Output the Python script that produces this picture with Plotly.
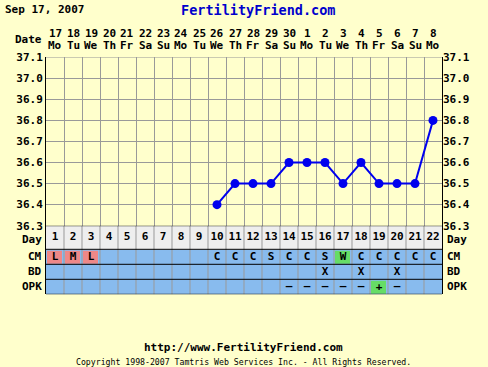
import plotly.graph_objects as go

# ---------------- data ----------------
cycle_days = list(range(1, 23))
date_labels = ["17", "18", "19", "20", "21", "22", "23", "24", "25", "26", "27",
               "28", "29", "30", "1", "2", "3", "4", "5", "6", "7", "8"]
weekday_labels = ["Mo", "Tu", "We", "Th", "Fr", "Sa", "Su"] * 3 + ["Mo"]
temp_days = [10, 11, 12, 13, 14, 15, 16, 17, 18, 19, 20, 21, 22]
temps = [36.4, 36.5, 36.5, 36.5, 36.6, 36.6, 36.6, 36.5, 36.6, 36.5, 36.5, 36.5, 36.8]
temp_ticks = [36.3, 36.4, 36.5, 36.6, 36.7, 36.8, 36.9, 37.0, 37.1]
cm_row = ["L", "M", "L", "", "", "", "", "", "", "C", "C", "C", "S", "C", "C", "S",
          "W", "C", "C", "C", "C", "C"]
bd_row = [""] * 15 + ["X", "", "X", "", "X", "", ""]
opk_row = [""] * 13 + ["-", "-", "-", "-", "-", "+", "-", "", ""]
row_names = ["Day", "CM", "BD", "OPK"]
title_date = "Sep 17, 2007"
site = "FertilityFriend.com"
footer_url = "http://www.FertilityFriend.com"
footer_copy = "Copyright 1998-2007 Tamtris Web Services Inc. - All Rights Reserved."

# ---------------- style ----------------
W, H = 488, 367
BG = "#FFFFCC"
BLUE_CELL = "#88BBEE"
GRAY_CELL = "#EEEEEE"
PINK = "#EE8888"
GREEN = "#66DD66"
LINE_BLUE = "#0000EE"
GRID = "#999999"
MONO = "DejaVu Sans Mono"
FS = 11

def py(y):
    return 1 - y / H

def pxx(x):
    return x / W

x_dom = [pxx(46), pxx(442)]
temp_dom = [py(225.7), py(57.2)]
table_dom = [py(294.3), py(225.7)]
row_edges = [0, 23.6, 38.6, 53.6, 68.6]
row_centers = [(row_edges[i] + row_edges[i + 1]) / 2 for i in range(4)]
label_offsets = [1.8, 0, 0, 0]

bold = dict(family=MONO, size=FS, color="black", weight="bold")

fig = go.Figure()

# temperature line
fig.add_trace(go.Scatter(
    x=temp_days, y=temps, mode="lines+markers",
    line=dict(color=LINE_BLUE, width=2),
    marker=dict(color=LINE_BLUE, size=9),
    xaxis="x", yaxis="y", showlegend=False, hoverinfo="skip"))
# invisible trace for right axis
fig.add_trace(go.Scatter(x=[temp_days[0]], y=[temps[0]], mode="markers",
                         marker=dict(opacity=0), xaxis="x", yaxis="y3",
                         showlegend=False, hoverinfo="skip"))

# table base heatmap
base_z = [[0] * 22] + [[1] * 22 for _ in range(3)]
fig.add_trace(go.Heatmap(
    z=base_z, x=cycle_days, y=row_edges,
    colorscale=[[0, GRAY_CELL], [0.5, GRAY_CELL], [0.5, BLUE_CELL], [1, BLUE_CELL]],
    zmin=0, zmax=1, showscale=False, xaxis="x2", yaxis="y2", hoverinfo="skip"))

# highlight cells
nan = float("nan")
hl = [[nan] * 22 for _ in range(4)]
for i, v in enumerate(cm_row):
    if v in ("L", "M"):
        hl[1][i] = 0
    elif v == "W":
        hl[1][i] = 1
for i, v in enumerate(opk_row):
    if v == "+":
        hl[3][i] = 1
fig.add_trace(go.Heatmap(
    z=hl, x=cycle_days, y=row_edges, xgap=3, ygap=2,
    colorscale=[[0, PINK], [0.5, PINK], [0.5, GREEN], [1, GREEN]],
    zmin=0, zmax=1, showscale=False, xaxis="x2", yaxis="y2", hoverinfo="skip"))

# table text
tx, ty, tt = [], [], []
for r, row in enumerate([[str(d) for d in cycle_days], cm_row, bd_row, opk_row]):
    for i, v in enumerate(row):
        if v:
            tx.append(cycle_days[i])
            ty.append(row_centers[r])
            tt.append("\u2013" if v == "-" else v)
fig.add_trace(go.Scatter(
    x=tx, y=ty, text=tt, mode="text",
    textfont=dict(family=MONO, size=FS, color="black", weight="bold"),
    xaxis="x2", yaxis="y2", showlegend=False, hoverinfo="skip"))

shapes = []
for k in range(1, 22):
    shapes.append(dict(type="line", xref="x2", yref="y2", x0=k + 0.5, x1=k + 0.5,
                       y0=row_edges[0], y1=row_edges[-1],
                       line=dict(color=GRID, width=1), layer="above"))
for e in row_edges:
    shapes.append(dict(type="line", xref="x2", yref="y2", x0=0.5, x1=22.5,
                       y0=e, y1=e, line=dict(color="black", width=1), layer="above"))
shapes.append(dict(type="line", xref="x", yref="y", x0=0.5, x1=22.5, y0=37.1, y1=37.1,
                   line=dict(color=GRID, width=1), layer="below"))

annotations = []
for d, lab, wd in zip(cycle_days, date_labels, weekday_labels):
    annotations.append(dict(x=d, y=py(33), xref="x", yref="paper", text=lab,
                            showarrow=False, xanchor="center", yanchor="middle", font=bold))
    annotations.append(dict(x=d, y=py(46), xref="x", yref="paper", text=wd,
                            showarrow=False, xanchor="center", yanchor="middle", font=bold))
annotations.append(dict(x=pxx(44), y=py(39.5), xref="paper", yref="paper", text="Date",
                        showarrow=False, xanchor="right", yanchor="middle", font=bold))
for name, yc, off in zip(row_names, row_centers, label_offsets):
    annotations.append(dict(x=pxx(44), y=yc + off, xref="paper", yref="y2", text=name,
                            showarrow=False, xanchor="right", yanchor="middle", font=bold))
    annotations.append(dict(x=pxx(445), y=yc + off, xref="paper", yref="y2", text=name,
                            showarrow=False, xanchor="left", yanchor="middle", font=bold))
annotations.append(dict(x=pxx(3), y=py(10), xref="paper", yref="paper", text=title_date,
                        showarrow=False, xanchor="left", yanchor="middle", font=bold))
annotations.append(dict(x=pxx(258), y=py(10), xref="paper", yref="paper", text=site,
                        showarrow=False, xanchor="center", yanchor="middle",
                        font=dict(family=MONO, size=13.5, color="#0000CC", weight="bold")))
annotations.append(dict(x=pxx(243), y=py(347), xref="paper", yref="paper", text=footer_url,
                        showarrow=False, xanchor="center", yanchor="middle", font=bold))
annotations.append(dict(x=pxx(243), y=py(362), xref="paper", yref="paper", text=footer_copy,
                        showarrow=False, xanchor="center", yanchor="middle",
                        font=dict(family=MONO, size=8.2, color="black")))

fig.update_layout(
    width=W, height=H, margin=dict(l=0, r=0, t=0, b=0, autoexpand=False),
    paper_bgcolor=BG, plot_bgcolor=BG, showlegend=False,
    shapes=shapes, annotations=annotations,
    xaxis=dict(domain=x_dom, range=[0.5, 22.5], anchor="y", automargin=False,
               tickvals=[k + 0.5 for k in range(0, 23)], showticklabels=False,
               showgrid=True, gridcolor=GRID, gridwidth=1, zeroline=False,
               showline=False, ticks=""),
    yaxis=dict(domain=temp_dom, range=[36.3, 37.1], anchor="x", automargin=False,
               tickvals=temp_ticks, ticktext=[f"{v:.1f}" for v in temp_ticks],
               tickfont=bold, showgrid=True, gridcolor=GRID, gridwidth=1,
               zeroline=False, showline=True, linecolor="black", linewidth=1,
               mirror=True, ticks=""),
    yaxis3=dict(domain=temp_dom, range=[36.3, 37.1], anchor="x", overlaying="y",
                side="right", tickvals=temp_ticks, automargin=False,
                ticktext=[f"{v:.1f}" for v in temp_ticks], tickfont=bold,
                showgrid=False, zeroline=False, showline=False, ticks=""),
    xaxis2=dict(domain=x_dom, range=[0.5, 22.5], anchor="y2", showticklabels=False,
                automargin=False, showgrid=False, zeroline=False, showline=False, ticks=""),
    yaxis2=dict(domain=table_dom, range=[row_edges[-1], row_edges[0]], anchor="x2",
                automargin=False, showticklabels=False, showgrid=False, zeroline=False,
                showline=True, linecolor="black", linewidth=1, mirror=True, ticks=""),
)

fig.write_html("out.html", config={"displayModeBar": False},
               post_script="document.body.style.margin='0px';document.body.style.overflow='hidden';")
